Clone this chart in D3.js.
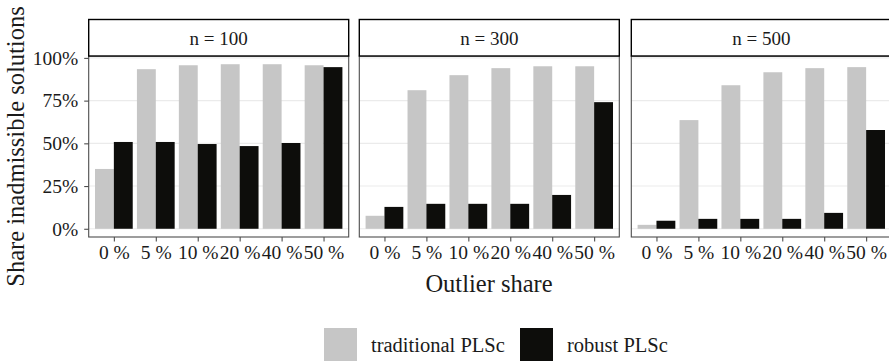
<!DOCTYPE html>
<html>
<head>
<meta charset="utf-8">
<script src="https://cdn.jsdelivr.net/npm/d3@7"></script>
<style>
body{margin:0;background:#fff;}
</style>
</head>
<body>
<div id="chart"></div>
<script>
// outlier share categories and panels
var shares = ["0 %","5 %","10 %","20 %","40 %","50 %"];
var panels = ["n = 100","n = 300","n = 500"];
var methods = ["traditional PLSc","robust PLSc"];

// share of inadmissible solutions, one row per panel
var traditional = [
  [0.350,0.934,0.957,0.963,0.963,0.957],
  [0.076,0.811,0.899,0.940,0.951,0.951],
  [0.023,0.636,0.840,0.916,0.940,0.946]
];
var robust = [
  [0.508,0.508,0.496,0.484,0.502,0.946],
  [0.128,0.146,0.146,0.146,0.198,0.741],
  [0.047,0.058,0.058,0.058,0.093,0.578]
];
var yTicks = [0,0.25,0.5,0.75,1];

var W=889,H=361;
var FONT="Liberation Serif";
var colors={"traditional PLSc":"#c6c6c6","robust PLSc":"#0d0d0b"};

var svg=d3.select("#chart").append("svg")
  .attr("width",W).attr("height",H);

var panelLeft=[88.7,359.3,631.3], panelW=260,
    stripTop=19.5, panelTop=56, panelBot=237;

var ymax=d3.max(traditional.concat(robust),function(r){return d3.max(r);});
var y=d3.scaleLinear()
  .domain([-0.05*ymax,ymax*1.05])
  .range([panelBot,panelTop]);

panels.forEach(function(p,pi){
  var x0=panelLeft[pi];
  var g=svg.append("g").attr("transform","translate("+x0+",0)");

  // discrete axis with 0.6 expansion on each side
  var x=d3.scaleLinear().domain([0.4,shares.length+0.6]).range([0,panelW]);

  // grid
  g.selectAll("line.grid").data(yTicks).enter().append("line")
    .attr("x1",0).attr("x2",panelW)
    .attr("y1",function(d){return y(d);}).attr("y2",function(d){return y(d);})
    .attr("stroke","#ebebeb").attr("stroke-width",1.1);

  var rows=[];
  shares.forEach(function(s,i){
    rows.push({m:"traditional PLSc",i:i,v:traditional[pi][i]});
    rows.push({m:"robust PLSc",i:i,v:robust[pi][i]});
  });
  g.selectAll("rect.bar").data(rows).enter().append("rect")
    .attr("x",function(d){return x(d.i+1-0.45+(d.m=="robust PLSc"?0.45:0));})
    .attr("width",x(1.45)-x(1))
    .attr("y",function(d){return y(d.v);})
    .attr("height",function(d){return y(0)-y(d.v);})
    .attr("fill",function(d){return colors[d.m];});

  // panel border
  g.append("rect").attr("x",0).attr("y",panelTop)
    .attr("width",panelW).attr("height",panelBot-panelTop)
    .attr("fill","none").attr("stroke","#4d4d4d").attr("stroke-width",1.1);

  // strip
  g.append("rect").attr("x",0).attr("y",stripTop)
    .attr("width",panelW).attr("height",panelTop-stripTop)
    .attr("fill","#fff").attr("stroke","#000").attr("stroke-width",1.4);
  g.append("text").attr("x",panelW/2).attr("y",45)
    .attr("text-anchor","middle").attr("font-size",19)
    .attr("font-family",FONT).attr("fill","#1a1a1a")
    .text(p);

  // x axis
  var xa=g.append("g").attr("transform","translate(0,"+panelBot+")")
    .call(d3.axisBottom(x).tickValues(d3.range(1,shares.length+1))
      .tickFormat(function(d){return shares[d-1];}).tickSize(4.5).tickPadding(4));
  xa.attr("font-family",FONT).attr("font-size",19.5);
  xa.select(".domain").remove();
  xa.selectAll("line").attr("stroke","#4d4d4d").attr("stroke-width",1.1);
  xa.selectAll("text").attr("font-family",FONT).attr("font-size",19.5).attr("fill","#1a1a1a");

  if(pi==0){
    var ya=g.append("g")
      .call(d3.axisLeft(y).tickValues(yTicks)
        .tickFormat(function(d){return Math.round(d*100)+"%";}).tickSize(4.5).tickPadding(6));
    ya.attr("font-family",FONT).attr("font-size",19.5);
    ya.select(".domain").remove();
    ya.selectAll("line").attr("stroke","#4d4d4d").attr("stroke-width",1.1);
    ya.selectAll("text").attr("font-family",FONT).attr("font-size",19.5).attr("fill","#1a1a1a");
  }
});

// axis titles
svg.append("text").attr("x",489).attr("y",292)
  .attr("text-anchor","middle").attr("font-size",24.5)
  .attr("font-family",FONT).attr("fill","#1a1a1a").text("Outlier share");
svg.append("text")
  .attr("transform","translate(24,"+(panelTop+panelBot)/2+") rotate(-90)")
  .attr("text-anchor","middle").attr("font-size",24.5)
  .attr("font-family",FONT).attr("fill","#1a1a1a").text("Share inadmissible solutions");

// legend
var lg=svg.append("g");
var legX=[324,520];
methods.forEach(function(m,i){
  lg.append("rect").attr("x",legX[i]).attr("y",328)
    .attr("width",33).attr("height",33).attr("fill",colors[m]);
  lg.append("text").attr("x",legX[i]+47).attr("y",352)
    .attr("font-size",20.5).attr("font-family",FONT).attr("fill","#1a1a1a").text(m);
});
</script>
</body>
</html>
